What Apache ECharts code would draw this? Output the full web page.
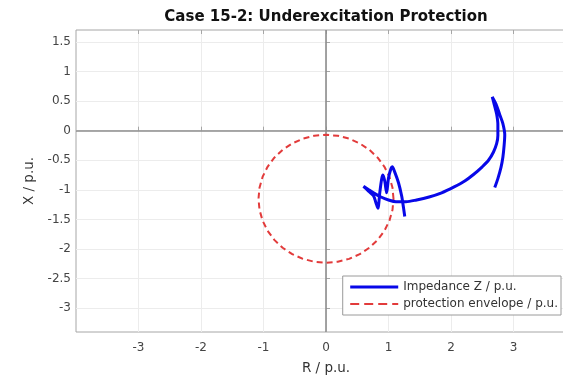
<!DOCTYPE html>
<html>
<head>
<meta charset="utf-8">
<script src="https://cdn.jsdelivr.net/npm/echarts@6/dist/echarts.min.js"></script>
<style>
  html, body { margin: 0; padding: 0; background: #fff; }
  #chart { width: 563px; height: 378px; }
</style>
</head>
<body>
<div id="chart"></div>
<script>
// Impedance trajectory Z = R + jX (p.u.)
const impedanceR = [2.70, 2.75, 2.80, 2.83, 2.85, 2.86, 2.83, 2.78, 2.72, 2.66,
  2.69, 2.73, 2.75, 2.75, 2.73, 2.68, 2.60, 2.50, 2.36, 2.22, 2.05, 1.85, 1.65,
  1.45, 1.28, 1.12, 1.00, 0.88, 0.76, 0.66, 0.60,
  0.68, 0.76, 0.80, 0.83, 0.86, 0.89, 0.91, 0.94, 0.97, 1.00, 1.04, 1.06,
  1.10, 1.16, 1.21, 1.24, 1.26];
const impedanceX = [-0.96, -0.81, -0.62, -0.45, -0.25, -0.07, 0.12, 0.27, 0.45, 0.57,
  0.45, 0.28, 0.10, -0.08, -0.22, -0.36, -0.50, -0.61, -0.74, -0.85, -0.95, -1.05, -1.12,
  -1.17, -1.20, -1.20, -1.17, -1.12, -1.05, -0.98, -0.94,
  -1.02, -1.10, -1.22, -1.31, -1.05, -0.82, -0.75, -0.85, -1.05, -0.80, -0.64, -0.61,
  -0.70, -0.88, -1.10, -1.30, -1.45];

// Protection envelope (offset mho circle), points around the circle
const envelopeR = [1.080, 1.064, 1.015, 0.935, 0.827, 0.694, 0.540, 0.369, 0.188, 0.000,
  -0.188, -0.369, -0.540, -0.694, -0.827, -0.935, -1.015, -1.064, -1.080,
  -1.064, -1.015, -0.935, -0.827, -0.694, -0.540, -0.369, -0.188, 0.000,
  0.188, 0.369, 0.540, 0.694, 0.827, 0.935, 1.015, 1.064, 1.080];
const envelopeX = [-1.150, -0.963, -0.781, -0.610, -0.456, -0.323, -0.215, -0.135, -0.086, -0.070,
  -0.086, -0.135, -0.215, -0.323, -0.456, -0.610, -0.781, -0.963, -1.150,
  -1.337, -1.519, -1.690, -1.844, -1.977, -2.085, -2.165, -2.214, -2.230,
  -2.214, -2.165, -2.085, -1.977, -1.844, -1.690, -1.519, -1.337, -1.150];

// Tick labels
const xTicks = [-3, -2, -1, 0, 1, 2, 3];
const yTicks = [-3, -2.5, -2, -1.5, -1, -0.5, 0, 0.5, 1, 1.5];

const FONT = 'DejaVu Sans';
const zip = (a, b) => a.map((v, i) => [v, b[i]]);

const chart = echarts.init(document.getElementById('chart'), null, { renderer: 'canvas' });

const tickStyle = { inside: true, length: 4, lineStyle: { color: '#a6a6a6', width: 1 } };
const gridLine = { show: true, lineStyle: { color: '#ececec', width: 1 } };

chart.setOption({
  animation: false,
  backgroundColor: '#ffffff',
  graphic: [{
    type: 'text', x: 326, y: 17.5, z: 10,
    style: {
      text: 'Case 15-2: Underexcitation Protection',
      font: 'bold 15px "' + FONT + '"', fill: '#111111',
      textAlign: 'center', textVerticalAlign: 'middle'
    }
  }],
  grid: {
    left: 76, top: 30, width: 500, height: 302,
    outerBoundsMode: 'none', containLabel: false,
    show: true, borderColor: '#a6a6a6', borderWidth: 1, backgroundColor: 'transparent'
  },
  legend: {
    orient: 'vertical',
    right: 2, bottom: 63,
    itemWidth: 48, itemHeight: 14, itemGap: 5,
    padding: [5, 3, 5, 6],
    backgroundColor: '#ffffff',
    borderColor: '#9a9a9a', borderWidth: 1, borderRadius: 0,
    itemStyle: { opacity: 0 },
    textStyle: { fontFamily: FONT, fontSize: 12, color: '#333333' },
    data: [
      { name: 'Impedance Z / p.u.', lineStyle: { width: 3 } },
      { name: 'protection envelope / p.u.', lineStyle: { type: [9, 5] } }
    ]
  },
  xAxis: [{
    type: 'value', min: -4, max: 4,
    name: 'R / p.u.', nameLocation: 'middle', nameGap: 29,
    nameTextStyle: { fontFamily: FONT, fontSize: 13.5, color: '#333333' },
    axisLine: { show: false },
    axisTick: Object.assign({ customValues: xTicks }, tickStyle),
    axisLabel: { customValues: xTicks, fontFamily: FONT, fontSize: 12, color: '#444444', margin: 10 },
    splitLine: gridLine
  }, {
    type: 'value', min: -4, max: 4, position: 'top',
    axisLine: { show: false },
    axisTick: Object.assign({ customValues: xTicks }, tickStyle),
    axisLabel: { show: false },
    splitLine: { show: false }
  }],
  yAxis: [{
    type: 'value', min: -3.4, max: 1.7,
    name: 'X / p.u.', nameLocation: 'middle', nameGap: 38, nameRotate: 90,
    nameTextStyle: { fontFamily: FONT, fontSize: 13.5, color: '#333333' },
    axisLine: { show: false },
    axisTick: Object.assign({ customValues: yTicks }, tickStyle),
    axisLabel: {
      customValues: yTicks, fontFamily: FONT, fontSize: 12, color: '#444444', margin: 5,
      formatter: v => String(v)
    },
    splitLine: gridLine
  }],
  series: [{
    name: 'Impedance Z / p.u.',
    type: 'line',
    data: zip(impedanceR, impedanceX),
    showSymbol: false, symbol: 'none',
    smooth: 0.3,
    lineStyle: { color: '#0808e8', width: 3 },
    itemStyle: { color: '#0808e8' },
    z: 4,
    markLine: {
      silent: true, symbol: 'none', animation: false,
      label: { show: false },
      lineStyle: { color: '#8c8c8c', width: 1.6, type: 'solid' },
      z: 1,
      data: [{ xAxis: 0 }, { yAxis: 0 }]
    }
  }, {
    name: 'protection envelope / p.u.',
    type: 'line',
    data: zip(envelopeR, envelopeX),
    showSymbol: false, symbol: 'none',
    lineStyle: { color: '#e23b3b', width: 2, type: [6, 4] },
    itemStyle: { color: '#e23b3b' },
    z: 3
  }]
});
</script>
</body>
</html>
